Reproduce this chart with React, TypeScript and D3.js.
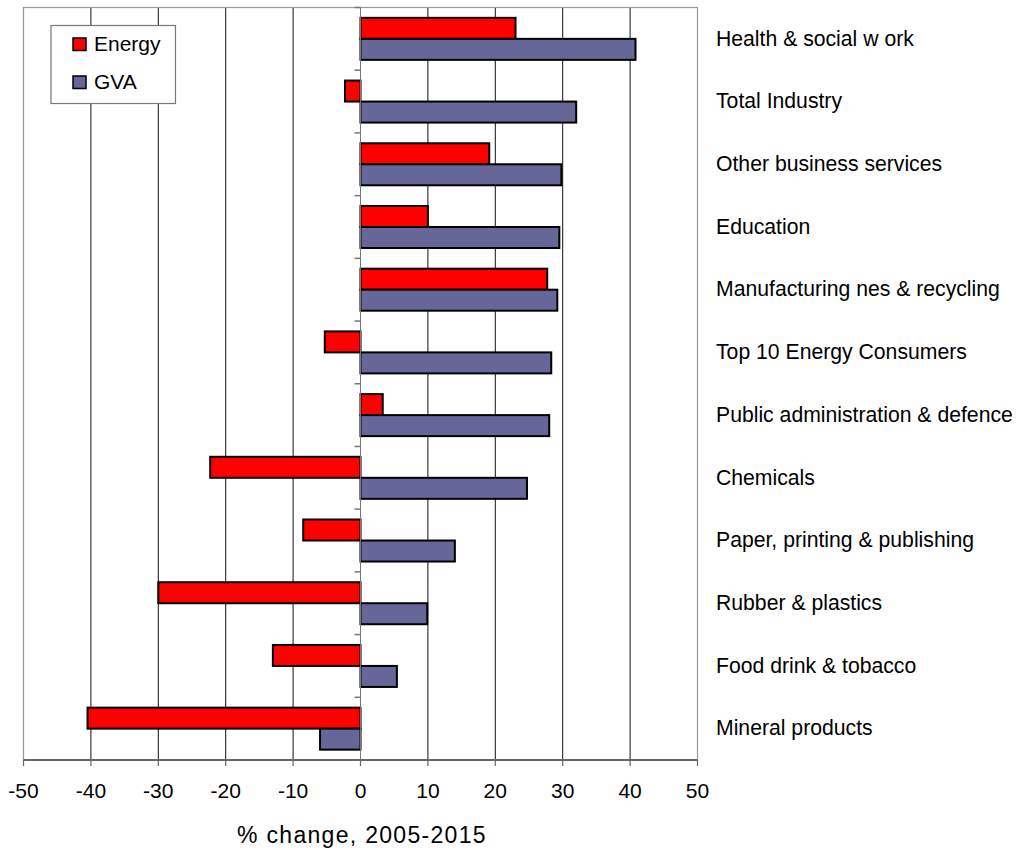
import React from "react";
import * as d3 from "d3";

// Sectors, top to bottom
const categories = [
  "Health & social w ork",
  "Total Industry",
  "Other business services",
  "Education",
  "Manufacturing nes & recycling",
  "Top 10 Energy Consumers",
  "Public administration & defence",
  "Chemicals",
  "Paper, printing & publishing",
  "Rubber & plastics",
  "Food drink & tobacco",
  "Mineral products",
];

// % change 2005-2015
const energyValues = [23.0, -2.3, 19.1, 10.0, 27.7, -5.3, 3.3, -22.3, -8.5, -30.0, -13.0, -40.5];
const gvaValues = [40.8, 32.0, 29.8, 29.5, 29.2, 28.3, 28.0, 24.7, 14.0, 9.9, 5.4, -6.0];

const seriesNames = ["Energy", "GVA"];
const seriesColors = ["#FF0000", "#666699"];

const xTicks = [-50, -40, -30, -20, -10, 0, 10, 20, 30, 40, 50];
const axisTitle = "% change, 2005-2015";

const W = 1018;
const H = 850;
const plot = { left: 23.5, right: 697.5, top: 7.5, bottom: 760 };
const FONT = "Arial, 'Liberation Sans', Helvetica, sans-serif";

export default function App() {
  const x = d3.scaleLinear().domain([-50, 50]).range([plot.left, plot.right]);
  const y = d3
    .scaleBand<string>()
    .domain(categories)
    .range([plot.top, plot.bottom])
    .paddingInner(0.33)
    .paddingOuter(0.165);
  const sub = d3.scaleBand<string>().domain(seriesNames).range([0, y.bandwidth()]);
  const step = y.step();
  const boundaries = d3.range(categories.length + 1).map((i) => plot.top + i * step);

  const series = [energyValues, gvaValues];

  return (
    <svg
      width={W}
      height={H}
      style={{ position: "absolute", left: 0, top: 0, background: "#fff" }}
      fontFamily={FONT}
    >
      <rect x={0} y={0} width={W} height={H} fill="#fff" />
      {/* vertical gridlines */}
      {xTicks
        .filter((t) => t !== -50 && t !== 50 && t !== 0)
        .map((t) => (
          <line key={t} x1={x(t)} x2={x(t)} y1={plot.top} y2={plot.bottom} stroke="#111" strokeWidth={1} />
        ))}
      {/* plot frame */}
      <rect
        x={plot.left}
        y={plot.top}
        width={plot.right - plot.left}
        height={plot.bottom - plot.top}
        fill="none"
        stroke="#999"
        strokeWidth={1.2}
      />

      {/* bars */}
      {categories.map((c, i) =>
        series.map((vals, s) => {
          const v = vals[i];
          const x0 = x(Math.min(0, v));
          const x1 = x(Math.max(0, v));
          return (
            <rect
              key={c + s}
              x={x0}
              y={(y(c) as number) + (sub(seriesNames[s]) as number)}
              width={x1 - x0}
              height={sub.bandwidth()}
              fill={seriesColors[s]}
              stroke="#000"
              strokeWidth={2}
            />
          );
        })
      )}

      {/* category axis at zero */}
      <line x1={x(0)} x2={x(0)} y1={plot.top} y2={plot.bottom} stroke="#777" strokeWidth={1} />
      {boundaries.map((b, i) => (
        <line key={i} x1={x(0) - 6} x2={x(0)} y1={b} y2={b} stroke="#777" strokeWidth={1.5} />
      ))}

      {/* value axis */}
      <line x1={plot.left} x2={plot.right} y1={plot.bottom} y2={plot.bottom} stroke="#666" strokeWidth={1.8} />
      {xTicks.map((t) => (
        <g key={t}>
          <line x1={x(t)} x2={x(t)} y1={plot.bottom} y2={plot.bottom + 6} stroke="#666" strokeWidth={1.2} />
          <text x={x(t)} y={798} textAnchor="middle" fontSize={21} fill="#000">
            {t}
          </text>
        </g>
      ))}
      <text x={362} y={843} textAnchor="middle" fontSize={23} letterSpacing={1.3} fill="#000">
        {axisTitle}
      </text>

      {/* category labels */}
      {categories.map((c) => (
        <text
          key={c}
          x={716}
          y={(y(c) as number) + y.bandwidth() / 2 + 6.8}
          fontSize={21.2}
          fill="#000"
        >
          {c}
        </text>
      ))}

      {/* legend */}
      <rect x={51} y={25.5} width={124.5} height={78} fill="#fff" stroke="#777" strokeWidth={1.2} />
      {seriesNames.map((n, s) => (
        <g key={n}>
          <rect
            x={73}
            y={38 + s * 38}
            width={13}
            height={12.5}
            fill={seriesColors[s]}
            stroke="#000"
            strokeWidth={1.5}
          />
          <text x={94} y={50.5 + s * 38} fontSize={21} fill="#000">
            {n}
          </text>
        </g>
      ))}
    </svg>
  );
}
